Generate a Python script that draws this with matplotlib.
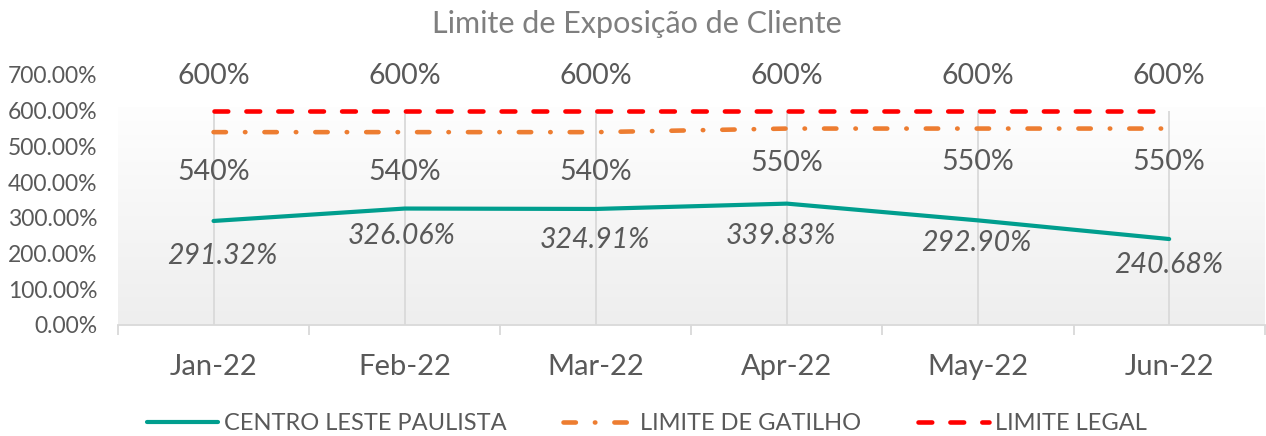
import numpy as np
import matplotlib
matplotlib.use('Agg')
import matplotlib.pyplot as plt
from matplotlib.colors import LinearSegmentedColormap
from matplotlib.ticker import FuncFormatter

###data
months = ['Jan-22', 'Feb-22', 'Mar-22', 'Apr-22', 'May-22', 'Jun-22']
centro = [291.32, 326.06, 324.91, 339.83, 292.90, 240.68]
gatilho = [540, 540, 540, 550, 550, 550]
legal = [600, 600, 600, 600, 600, 600]

###label nudges (points), as placed in the original chart
centro_off = [(6, -25), (-2, -20), (-1, -22), (-4, -23), (-1, -16), (0, -19)]
gatilho_off = [-29, -29, -29, -25, -24, -24]

gray_txt = '#595959'
teal = '#009E8E'
orange = '#ED7D31'
red = '#FF0000'

plt.rcParams['font.family'] = ['Lato', 'DejaVu Sans']

fig = plt.figure(figsize=(12.66, 4.36), dpi=100)
ax = fig.add_axes([0.0932, 0.2546, 0.9058, 0.5734])
x = np.arange(len(months))

###background gradient (light gray bottom -> white top)
cmap = LinearSegmentedColormap.from_list('g', ['#EEEEEE', '#FEFEFE'])
ax.imshow(np.linspace(0.0, 1.0, 256).reshape(-1, 1), extent=(-0.5, 5.5, 0, 610), aspect='auto',
          cmap=cmap, origin='lower', zorder=0, vmin=0, vmax=1)

###drop lines
top = np.max(np.vstack([centro, gatilho, legal]), axis=0)
ax.vlines(x, 0, top, color='#D9D9D9', lw=1.3, zorder=1)

###series
ax.plot(x, centro, color=teal, lw=3.0, solid_capstyle='round', zorder=3, label='CENTRO LESTE PAULISTA')
ax.plot(x, gatilho, color=orange, lw=3.3, dashes=(2.7, 4.15, 0.1, 4.15), dash_capstyle='round', zorder=3,
        label='LIMITE DE GATILHO')
ax.plot(x, legal, color=red, lw=3.3, dashes=(3.0, 3.96), dash_capstyle='round', zorder=3, label='LIMITE LEGAL')

###data labels
for i in range(len(x)):
    ax.annotate('%d%%' % legal[i], (x[i], legal[i]), xytext=(0, 25), textcoords='offset points',
                ha='center', va='center', fontsize=20.5, color=gray_txt)
    ax.annotate('%d%%' % gatilho[i], (x[i], gatilho[i]), xytext=(0, gatilho_off[i]), textcoords='offset points',
                ha='center', va='center', fontsize=20.5, color=gray_txt)
    ax.annotate('%.2f%%' % centro[i], (x[i], centro[i]), xytext=centro_off[i], textcoords='offset points',
                ha='center', va='center', fontsize=20.5, color=gray_txt, style='italic')

###axes
ax.set_xlim(-0.5, 5.5)
ax.set_ylim(0, 700)
ax.set_yticks(np.arange(0, 701, 100))
ax.yaxis.set_major_formatter(FuncFormatter(lambda v, p: '%.2f%%' % v))
ax.set_xticks(x)
ax.set_xticklabels(months)
ax.set_xticks(np.arange(-0.5, 5.6, 1), minor=True)
ax.tick_params(axis='x', which='major', length=0, pad=21, labelsize=21, labelcolor=gray_txt)
ax.tick_params(axis='x', which='minor', length=7, color='#D9D9D9', width=1.3)
ax.tick_params(axis='y', length=0, pad=15, labelsize=16.5, labelcolor=gray_txt)
for s in ['top', 'right', 'left']:
    ax.spines[s].set_visible(False)
ax.spines['bottom'].set_color('#D9D9D9')
ax.spines['bottom'].set_linewidth(1.3)
ax.set_facecolor('none')

fig.text(0.503, 0.945, 'Limite de Exposição de Cliente', ha='center', va='center', fontsize=22, color='#7F7F7F')

fig.legend(loc='center', bbox_to_anchor=(0.511, 0.028), ncol=3, frameon=False, fontsize=17,
           handlelength=3.0, handletextpad=0.25, columnspacing=2.4, labelcolor=gray_txt)

fig.savefig('out.png', dpi=100)
